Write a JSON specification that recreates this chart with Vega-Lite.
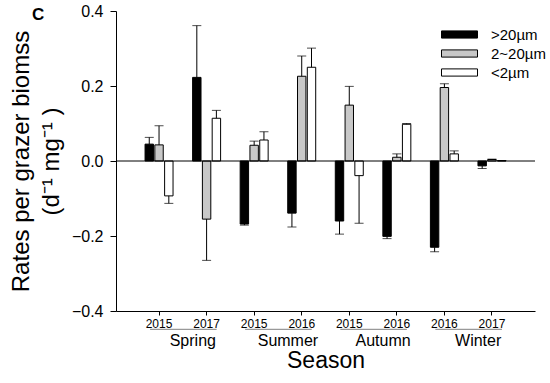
{
  "$schema": "https://vega.github.io/schema/vega-lite/v6.json",
  "width": 419,
  "height": 300,
  "autosize": "none",
  "padding": {"left": 116, "top": 11, "right": 15, "bottom": 72},
  "config": {
    "view": {"stroke": null},
    "font": "Liberation Sans",
    "axis": {"grid": false, "domainColor": "black", "tickColor": "black", "labelColor": "black", "titleColor": "black", "titleFontWeight": "normal", "domainWidth": 1, "tickWidth": 1},
    "legend": {"labelColor": "black"}
  },
  "title": {"text": "C", "anchor": "start", "frame": "group", "dx": -84, "dy": 21, "offset": 0, "fontSize": 17, "fontWeight": "bold", "color": "black"},
  "datasets": {
    "bars": [
      {"key": "Spring 2015", "size": ">20µm", "value": 0.045, "err": 0.063},
      {"key": "Spring 2015", "size": "2~20µm", "value": 0.043, "err": 0.094},
      {"key": "Spring 2015", "size": "<2µm", "value": -0.093, "err": -0.113},
      {"key": "Spring 2017", "size": ">20µm", "value": 0.223, "err": 0.361},
      {"key": "Spring 2017", "size": "2~20µm", "value": -0.155, "err": -0.265},
      {"key": "Spring 2017", "size": "<2µm", "value": 0.114, "err": 0.135},
      {"key": "Summer 2015", "size": ">20µm", "value": -0.168, "err": -0.171},
      {"key": "Summer 2015", "size": "2~20µm", "value": 0.042, "err": 0.053},
      {"key": "Summer 2015", "size": "<2µm", "value": 0.056, "err": 0.078},
      {"key": "Summer 2016", "size": ">20µm", "value": -0.139, "err": -0.176},
      {"key": "Summer 2016", "size": "2~20µm", "value": 0.226, "err": 0.28},
      {"key": "Summer 2016", "size": "<2µm", "value": 0.25, "err": 0.301},
      {"key": "Autumn 2015", "size": ">20µm", "value": -0.16, "err": -0.195},
      {"key": "Autumn 2015", "size": "2~20µm", "value": 0.149, "err": 0.199},
      {"key": "Autumn 2015", "size": "<2µm", "value": -0.039, "err": -0.166},
      {"key": "Autumn 2016", "size": ">20µm", "value": -0.201, "err": -0.207},
      {"key": "Autumn 2016", "size": "2~20µm", "value": 0.01, "err": 0.019},
      {"key": "Autumn 2016", "size": "<2µm", "value": 0.098, "err": 0.1},
      {"key": "Winter 2016", "size": ">20µm", "value": -0.23, "err": -0.242},
      {"key": "Winter 2016", "size": "2~20µm", "value": 0.196, "err": 0.206},
      {"key": "Winter 2016", "size": "<2µm", "value": 0.019, "err": 0.027},
      {"key": "Winter 2017", "size": ">20µm", "value": -0.013, "err": -0.02},
      {"key": "Winter 2017", "size": "2~20µm", "value": 0.004, "err": 0.005},
      {"key": "Winter 2017", "size": "<2µm", "value": 0.001, "err": 0.001}
    ],
    "seasons": [
      {"first": "Spring 2015", "second": "Spring 2017", "season": "Spring"},
      {"first": "Summer 2015", "second": "Summer 2016", "season": "Summer"},
      {"first": "Autumn 2015", "second": "Autumn 2016", "season": "Autumn"},
      {"first": "Winter 2016", "second": "Winter 2017", "season": "Winter"}
    ]
  },
  "layer": [
    {
      "data": {"name": "bars"},
      "mark": {"type": "bar", "stroke": "black", "strokeWidth": 1},
      "encoding": {
        "x": {
          "field": "key", "type": "nominal",
          "scale": {"domain": ["Spring 2015", "Spring 2017", "Summer 2015", "Summer 2016", "Autumn 2015", "Autumn 2016", "Winter 2016", "Winter 2017"], "paddingInner": 0, "paddingOuter": 0.405},
          "axis": {"title": "Season", "titleFontSize": 23, "titlePadding": 20, "labelExpr": "slice(datum.value, -4)", "labelAngle": 0, "labelFontSize": 12, "tickSize": 4, "labelPadding": 3}
        },
        "xOffset": {
          "field": "size", "type": "nominal",
          "scale": {"domain": [">20µm", "2~20µm", "<2µm"], "paddingInner": 0.14, "paddingOuter": 1.127}
        },
        "y": {
          "field": "value", "type": "quantitative",
          "scale": {"domain": [-0.4, 0.4], "nice": false, "zero": false},
          "axis": {"title": ["Rates per grazer biomss", "(d⁻¹ mg⁻¹ )"], "titleFontSize": 24, "titleLineHeight": 30, "values": [-0.4, -0.2, 0, 0.2, 0.4], "format": ".1f", "labelFontSize": 16, "tickSize": 6, "labelPadding": 7, "titlePadding": 8}
        },
        "color": {
          "field": "size", "type": "nominal",
          "scale": {"domain": [">20µm", "2~20µm", "<2µm"], "range": ["#000000", "#c8c8c8", "#ffffff"]},
          "legend": {"orient": "none", "legendX": 336, "legendY": 16, "title": null, "symbolType": "M-4,-0.8H4V0.8H-4Z", "symbolSize": 81, "symbolStrokeColor": "black", "symbolStrokeWidth": 1, "labelFontSize": 15, "labelOffset": 24, "rowPadding": 3}
        }
      }
    },
    {
      "data": {"name": "bars"},
      "mark": {"type": "rule", "color": "black", "strokeWidth": 1},
      "encoding": {
        "x": {"field": "key", "type": "nominal"},
        "xOffset": {"field": "size", "type": "nominal"},
        "y": {"field": "value", "type": "quantitative"},
        "y2": {"field": "err"}
      }
    },
    {
      "data": {"name": "bars"},
      "mark": {"type": "tick", "color": "black", "thickness": 1, "size": 9, "orient": "horizontal"},
      "encoding": {
        "x": {"field": "key", "type": "nominal"},
        "xOffset": {"field": "size", "type": "nominal"},
        "y": {"field": "err", "type": "quantitative"}
      }
    },
    {
      "data": {"values": [{}]},
      "mark": {"type": "rule", "color": "black", "strokeWidth": 1},
      "encoding": {"y": {"datum": 0}}
    },
    {
      "data": {"name": "seasons"},
      "mark": {"type": "rule", "color": "#808080", "strokeWidth": 1, "xOffset": -9, "x2Offset": 10},
      "encoding": {
        "x": {"field": "first", "type": "nominal"},
        "x2": {"field": "second"},
        "y": {"datum": -0.4488}
      }
    },
    {
      "data": {"name": "seasons"},
      "mark": {"type": "text", "fontSize": 16, "baseline": "middle", "align": "center", "dx": 10, "color": "black"},
      "encoding": {
        "x": {"field": "first", "type": "nominal", "bandPosition": 1},
        "y": {"datum": -0.48},
        "text": {"field": "season"}
      }
    }
  ]
}
